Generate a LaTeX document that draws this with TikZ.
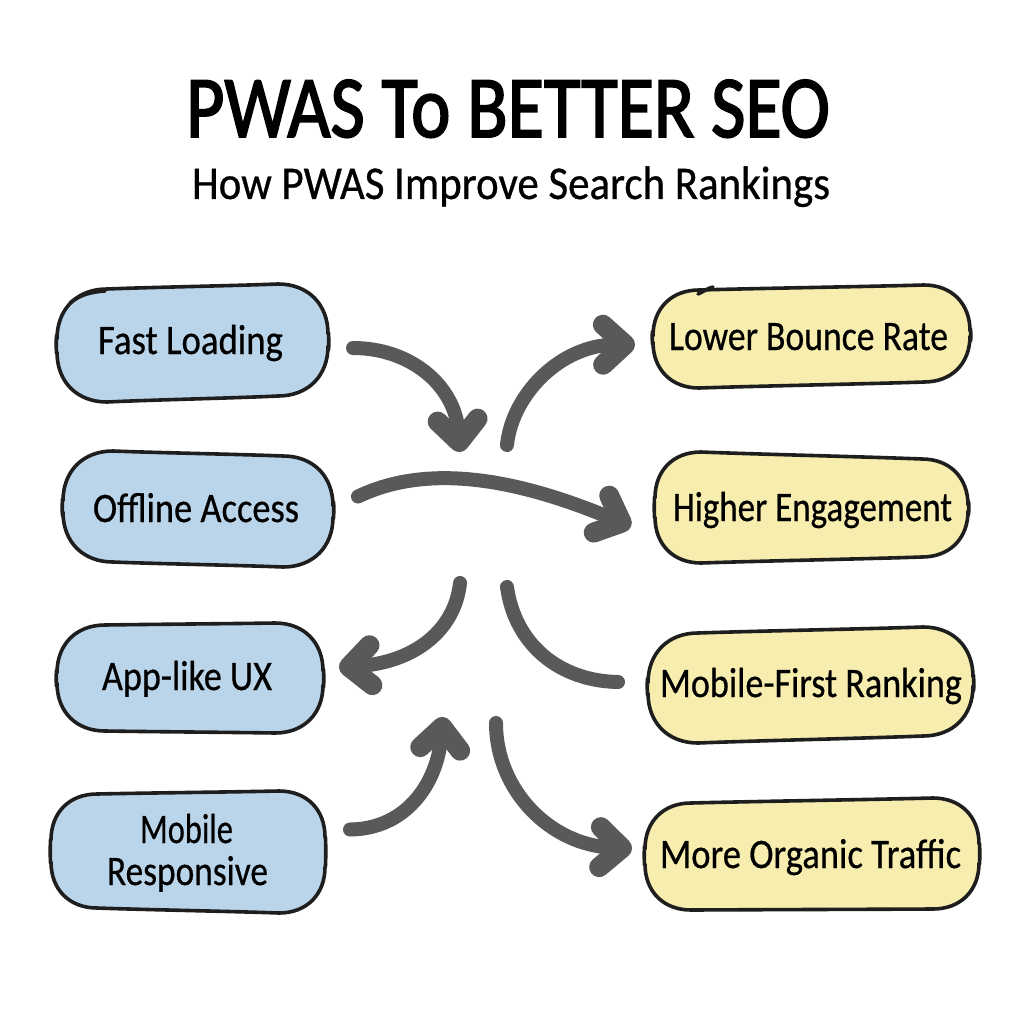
\documentclass[tikz,border=0pt]{standalone}
\usepackage{fontspec}
\usepackage{graphicx}
\usetikzlibrary{arrows.meta,calc}
\setmainfont{Carlito}
\newfontfamily\titlefont[FakeBold=2.2]{Carlito}
\newfontfamily\subfont[FakeBold=0.7]{Carlito}
\newfontfamily\labelfont[FakeBold=0.6]{Carlito}
\definecolor{bluebox}{HTML}{BAD5EA}
\definecolor{yellowbox}{HTML}{F7EDAE}
\definecolor{arrowgrey}{HTML}{59595B}
\definecolor{inkline}{HTML}{1E1E1E}
\tikzset{
  flow/.style={draw=arrowgrey,line width=14pt,line cap=round,
    -{Straight Barb[length=22pt,width=40pt,line width=20pt,round]}},
  plainflow/.style={draw=arrowgrey,line width=14pt,line cap=round},
  blobline/.style={draw=inkline,line width=3.6pt,line join=round},
  tickline/.style={draw=inkline,line width=3.6pt,line cap=round},
  label/.style={inner sep=0pt,font=\labelfont\fontsize{42pt}{44pt}\selectfont,text=black},
  holder/.style={inner sep=0pt,outer sep=0pt}
}
\def\parseoff#1/#2/#3/#4\relax{\def\dtl{#1}\def\dtr{#2}\def\dbr{#3}\def\dbl{#4}}
% name, cx, cy, w, h, tl/tr/br/bl offsets, fill, radius
\newcommand\blobbox[8]{%
  \parseoff#6\relax
  \begin{scope}[shift={(#2,#3)}]
  \pgfmathsetmacro\hw{#4/2}\pgfmathsetmacro\hh{#5/2}%
  \pgfmathsetmacro\rr{#8}\pgfmathsetmacro\cc{#8*0.40}%
  \pgfmathsetmacro\ytl{-\hh+\dtl}\pgfmathsetmacro\ytr{-\hh+\dtr}%
  \pgfmathsetmacro\ybr{\hh+\dbr}\pgfmathsetmacro\ybl{\hh+\dbl}%
  \path[blobline,fill=#7]
    ({-\hw+\rr},\ytl) .. controls ({-\hw/3},{\ytl+(\ytr-\ytl)/3}) and ({\hw/3},{\ytr-(\ytr-\ytl)/3}) .. ({\hw-\rr},\ytr)
    .. controls ({\hw-\cc},\ytr) and (\hw,{\ytr+\cc}) .. (\hw,{\ytr+\rr})
    .. controls ({\hw+1},{-\hh/3}) and ({\hw+1},{\hh/3}) .. (\hw,{\ybr-\rr})
    .. controls (\hw,{\ybr-\cc}) and ({\hw-\cc},\ybr) .. ({\hw-\rr},\ybr)
    .. controls ({\hw/3},{\ybr+(\ybl-\ybr)/3}) and ({-\hw/3},{\ybl-(\ybl-\ybr)/3}) .. ({-\hw+\rr},\ybl)
    .. controls ({-\hw+\cc},\ybl) and (-\hw,{\ybl-\cc}) .. (-\hw,{\ybl-\rr})
    .. controls ({-\hw-1},{\hh/3}) and ({-\hw-1},{-\hh/3}) .. (-\hw,{\ytl+\rr})
    .. controls (-\hw,{\ytl+\cc}) and ({-\hw+\cc},\ytl) .. cycle;
  \end{scope}%
  \node[holder,minimum width=#4pt,minimum height=#5pt] (#1) at (#2,#3) {};%
}
\newcommand\fit[2]{\resizebox{#1pt}{\height}{#2}}
\begin{document}
\begin{tikzpicture}[x=1pt,y=-1pt]
\useasboundingbox (0,0) rectangle (1024,1024);
\fill[white] (0,0) rectangle (1024,1024);
% title
\node[inner sep=0pt,anchor=base] (title) at (508,137) {\titlefont\fontsize{88pt}{90pt}\selectfont\resizebox{644pt}{\height}{PWAS To BETTER SEO}};
\node[inner sep=0pt,anchor=base] (subtitle) at (511,199) {\subfont\fontsize{47pt}{50pt}\selectfont\resizebox{638pt}{\height}{How PWAS Improve Search Rankings}};
% left boxes
\blobbox{fast}{192.5}{343}{271}{118}{5/0/-6/0}{bluebox}{50}
\blobbox{offline}{198}{508.5}{270}{117}{1/6/0/-5}{bluebox}{50}
\blobbox{app}{190}{678.5}{266}{113}{3/1/-2/-4}{bluebox}{48}
\blobbox{mobile}{188}{851.5}{274}{123}{4/1/0/-5}{bluebox}{46}
% right boxes
\blobbox{bounce}{811.5}{336.5}{317}{103}{5/0/-6/0}{yellowbox}{46}
\blobbox{engage}{811.5}{507.5}{313}{111}{0/7/-6/0}{yellowbox}{46}
\blobbox{rank}{810.5}{685}{325}{116}{6/0/-7/0}{yellowbox}{50}
\blobbox{traffic}{812}{854.5}{334}{113}{5/0/-2/-1}{yellowbox}{46}
% sketch overshoot ticks
\draw[tickline] (70,303) .. controls (80,295) and (90,292) .. (105,291);
\draw[tickline] (698,294) .. controls (703,292) and (708,288) .. (713,287);
% labels
\node[label,anchor=base] at (190.5,354) {\fit{185}{Fast Loading}};
\node[label,anchor=base] at (196,522) {\fit{206}{Offline Access}};
\node[label,anchor=base] at (187,690) {\fit{170}{App-like UX}};
\node[label,anchor=base] at (186.5,843) {\fit{93}{Mobile}};
\node[label,anchor=base] at (187.5,885) {\fit{161}{Responsive}};
\node[label,anchor=base] at (808.5,350) {\fit{279}{Lower Bounce Rate}};
\node[label,anchor=base] at (812.5,521) {\fit{279}{Higher Engagement}};
\node[label,anchor=base] at (811,697) {\fit{302}{Mobile-First Ranking}};
\node[label,anchor=base] at (810.5,868) {\fit{301}{More Organic Traffic}};
% hub coordinates
\coordinate (h1) at (460,452);
\coordinate (h2) at (507,445);
\coordinate (h4) at (460,583);
\coordinate (h5) at (507,587);
\coordinate (h6) at (443,717);
\coordinate (h7) at (496,723);
% connectors
\draw[flow] ([shift={(25,5)}]fast.east) .. controls (410,348) and (455,385) .. (h1);
\draw[flow] (h2) .. controls (512,395) and (560,345) .. ([shift={(-18,8)}]bounce.west);
\draw[flow] ([shift={(25,-12)}]offline.east) .. controls (430,462) and (520,480) .. ([shift={(-24,19)}]engage.west);
\draw[flow] (h4) .. controls (455,630) and (415,662) .. ([shift={(16,-11)}]app.east);
\draw[plainflow] (h5) .. controls (515,645) and (560,681) .. ([shift={(-30,-3)}]rank.west);
\draw[flow] ([shift={(25,-22)}]mobile.east) .. controls (405,829) and (437,785) .. (h6);
\draw[flow] (h7) .. controls (496,790) and (550,845) .. ([shift={(-13,-6)}]traffic.west);
\end{tikzpicture}
\end{document}
